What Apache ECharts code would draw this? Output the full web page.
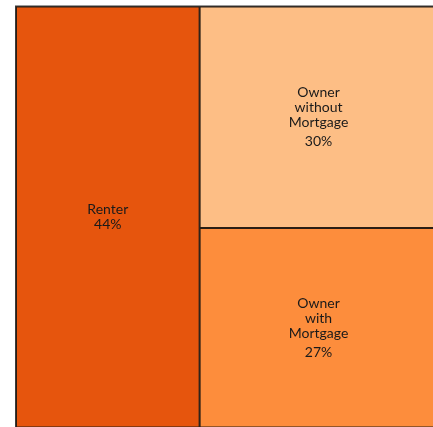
<!DOCTYPE html>
<html>
<head>
<meta charset="utf-8">
<script src="https://cdn.jsdelivr.net/npm/echarts@6/dist/echarts.min.js"></script>
<style>
html,body{margin:0;padding:0;background:#fff;}
#chart{width:433px;height:427px;}
</style>
</head>
<body>
<div id="chart"></div>
<script>
var categories = ['Renter', 'Owner without Mortgage', 'Owner with Mortgage'];
var values = [44, 30, 27];
var colors = ['#E6550D', '#FDBE85', '#FD8D3C'];

var LINE = 15, PCT_LINE = 23;

function blockHeight(name) {
  var words = name.split(' ');
  return words.length * LINE + (words.length > 1 ? PCT_LINE : LINE);
}

function buildData(pads) {
  return categories.map(function (c, i) {
    var d = { name: c, value: values[i], itemStyle: { color: colors[i] } };
    if (pads) d.label = { padding: [pads[c] || 0, 0, 0, 0] };
    return d;
  });
}

var chart = echarts.init(document.getElementById('chart'));
var option = {
  animation: false,
  series: [{
    type: 'treemap',
    left: 15,
    top: 5.5,
    width: 423.5,
    height: 423,
    roam: false,
    nodeClick: false,
    squareRatio: 0.3,
    breadcrumb: { show: false },
    data: buildData(null),
    levels: [
      { itemStyle: { borderWidth: 1, borderColor: '#3a3a3a', gapWidth: 0 } },
      { itemStyle: { borderWidth: 1, borderColor: '#2a1e14', gapWidth: 0 } }
    ],
    label: {
      show: true,
      position: 'inside',
      align: 'center',
      fontFamily: 'Lato',
      fontSize: 14,
      color: '#1a1a1a',
      formatter: function (p) {
        var words = p.name.split(' ');
        var pct = p.value + '%';
        if (words.length > 1) {
          return words.map(function (w) { return '{n|' + w + '}'; }).join('\n') + '\n{q|' + pct + '}';
        }
        return '{n|' + p.name + '}\n{n|' + pct + '}';
      },
      rich: {
        n: { fontFamily: 'Lato', fontSize: 14, lineHeight: LINE, color: '#1a1a1a', align: 'center' },
        q: { fontFamily: 'Lato', fontSize: 14, lineHeight: PCT_LINE, color: '#1a1a1a', align: 'center' }
      }
    }
  }]
};
chart.setOption(option);

// center labels vertically using the layout computed by ECharts
var sData = chart.getModel().getSeriesByIndex(0).getData();
var pads = {};
sData.each(function (idx) {
  var name = sData.getName(idx);
  var lay = sData.getItemLayout(idx);
  if (lay && categories.indexOf(name) >= 0) {
    var extra = name.split(' ').length > 1 ? 2 : 0;
    pads[name] = Math.max(0, (lay.height - 2 - blockHeight(name)) / 2 + extra);
  }
});
option.series[0].data = buildData(pads);
chart.setOption(option);
</script>
</body>
</html>
